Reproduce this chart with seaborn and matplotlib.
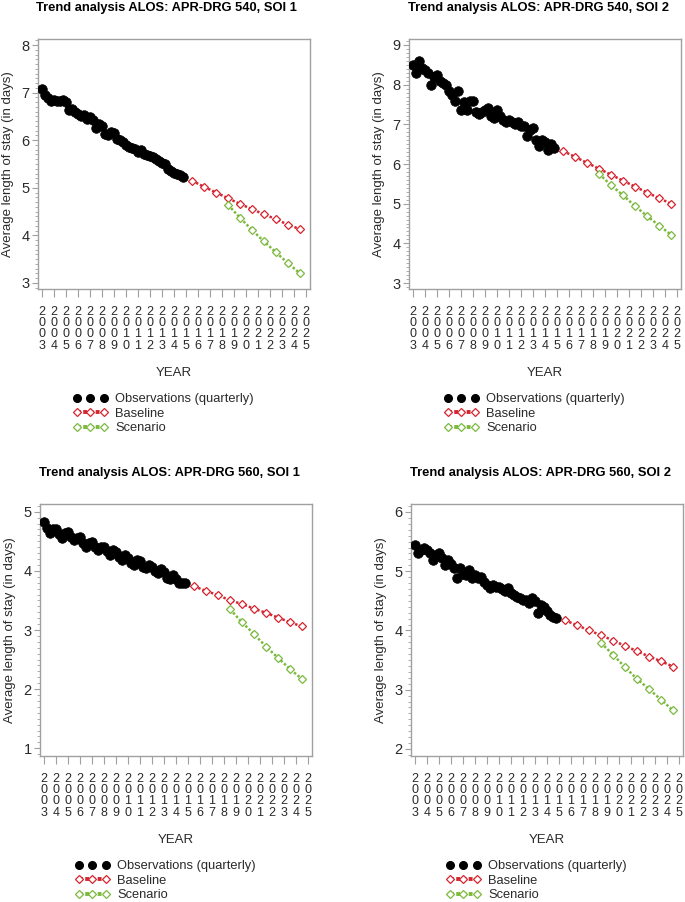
import matplotlib
matplotlib.use("Agg")
import matplotlib.pyplot as plt
from matplotlib.ticker import MultipleLocator
from matplotlib.lines import Line2D
import seaborn as sns

# x positions: quarterly observations 2003-2014, yearly projections from mid-2015
years = list(range(2003, 2026))
obs_x = [2003 + q / 4 for q in range(48)]
base_x = [2015.5 + i for i in range(10)]
scen_x = [2018.5 + i for i in range(7)]

# APR-DRG 540, SOI 1
obs_540_1 = [7.07, 6.95, 6.88, 6.82, 6.84, 6.83, 6.82, 6.84, 6.80, 6.64, 6.66, 6.60,
             6.55, 6.50, 6.53, 6.45, 6.48, 6.42, 6.25, 6.35, 6.30, 6.14, 6.12, 6.17,
             6.15, 6.03, 6.00, 5.97, 5.90, 5.86, 5.84, 5.82, 5.76, 5.80, 5.72, 5.68,
             5.66, 5.65, 5.60, 5.57, 5.52, 5.50, 5.40, 5.36, 5.32, 5.30, 5.26, 5.22]
base_540_1 = [5.15, 5.02, 4.90, 4.78, 4.66, 4.55, 4.44, 4.34, 4.22, 4.13]
scen_540_1 = [4.64, 4.37, 4.11, 3.87, 3.64, 3.41, 3.20]

# APR-DRG 540, SOI 2
obs_540_2 = [8.50, 8.30, 8.60, 8.42, 8.36, 8.30, 8.00, 8.20, 8.25, 8.10, 8.05, 8.00,
             7.85, 7.75, 7.60, 7.85, 7.35, 7.55, 7.35, 7.60, 7.60, 7.30, 7.25, 7.30,
             7.35, 7.40, 7.20, 7.15, 7.35, 7.20, 7.10, 7.05, 7.10, 7.05, 7.00, 7.05,
             6.95, 6.95, 6.70, 6.85, 6.90, 6.60, 6.45, 6.60, 6.55, 6.35, 6.50, 6.40]
base_540_2 = [6.33, 6.18, 6.03, 5.88, 5.73, 5.58, 5.43, 5.28, 5.14, 5.00]
scen_540_2 = [5.75, 5.47, 5.21, 4.94, 4.69, 4.45, 4.22]

# APR-DRG 560, SOI 1
obs_560_1 = [4.82, 4.72, 4.64, 4.71, 4.70, 4.62, 4.56, 4.64, 4.66, 4.58, 4.52, 4.55,
             4.58, 4.47, 4.41, 4.47, 4.48, 4.40, 4.35, 4.41, 4.40, 4.33, 4.27, 4.35,
             4.32, 4.23, 4.18, 4.27, 4.22, 4.13, 4.10, 4.18, 4.16, 4.06, 4.04, 4.10,
             4.06, 3.99, 3.96, 4.03, 3.98, 3.88, 3.86, 3.93, 3.86, 3.79, 3.80, 3.80]
base_560_1 = [3.74, 3.66, 3.59, 3.50, 3.44, 3.36, 3.29, 3.21, 3.13, 3.06]
scen_560_1 = [3.35, 3.13, 2.93, 2.72, 2.53, 2.34, 2.17]

# APR-DRG 560, SOI 2
obs_560_2 = [5.45, 5.31, 5.36, 5.39, 5.36, 5.30, 5.19, 5.27, 5.30, 5.22, 5.11, 5.19,
             5.13, 5.05, 4.89, 5.05, 4.96, 4.94, 5.02, 4.88, 4.94, 4.88, 4.91, 4.82,
             4.77, 4.71, 4.77, 4.74, 4.74, 4.70, 4.66, 4.71, 4.63, 4.60, 4.57, 4.54,
             4.52, 4.51, 4.46, 4.54, 4.49, 4.29, 4.43, 4.40, 4.32, 4.26, 4.23, 4.21]
base_560_2 = [4.17, 4.09, 4.00, 3.92, 3.83, 3.74, 3.65, 3.56, 3.48, 3.39]
scen_560_2 = [3.79, 3.59, 3.38, 3.18, 3.01, 2.83, 2.65]

titles = ["Trend analysis ALOS: APR-DRG 540, SOI 1",
          "Trend analysis ALOS: APR-DRG 540, SOI 2",
          "Trend analysis ALOS: APR-DRG 560, SOI 1",
          "Trend analysis ALOS: APR-DRG 560, SOI 2"]
legend_labels = ["Observations (quarterly)", "Baseline", "Scenario"]

RED = "#d42530"
GREEN = "#7cba3e"
GRAY = "#a0a0a0"
TXT = "#2a2a2a"

sns.set_theme(style="white")
plt.rcParams["font.family"] = ["Liberation Sans", "DejaVu Sans"]

W, H = 685, 902
fig = plt.figure(figsize=(W / 100, H / 100), dpi=100)

# (left, top, width, height) in pixels, title centre, y limits
panels = [
    (obs_540_1, base_540_1, scen_540_1, (38, 39, 272, 250), (166, 8), (2.87, 8.13)),
    (obs_540_2, base_540_2, scen_540_2, (409, 39, 272, 250), (538, 8), (2.85, 9.15)),
    (obs_560_1, base_560_1, scen_560_1, (40, 504, 272, 252), (169, 473), (0.87, 5.13)),
    (obs_560_2, base_560_2, scen_560_2, (411, 504, 272, 252), (541, 473), (1.88, 6.135)),
]

for i, (obs, base, scen, box, tpos, ylim) in enumerate(panels):
    l, t, w, h = box
    ax = fig.add_axes([l / W, 1 - (t + h) / H, w / W, h / H])

    sns.scatterplot(x=obs_x, y=obs, ax=ax, color="black", s=48,
                    edgecolor="black", linewidth=0.5, zorder=3)
    sns.lineplot(x=base_x, y=base, ax=ax, color=RED, lw=1.8, ls=(0, (1, 0.8)),
                 marker="D", markersize=3.6, markerfacecolor="white",
                 markeredgecolor=RED, markeredgewidth=0.9, zorder=4)
    sns.lineplot(x=scen_x, y=scen, ax=ax, color=GREEN, lw=1.8, ls=(0, (1, 0.8)),
                 marker="D", markersize=3.6, markerfacecolor="white",
                 markeredgecolor=GREEN, markeredgewidth=0.9, zorder=4)

    ax.set_xlim(2002.67, 2025.33)
    ax.set_ylim(*ylim)
    ax.set_xticks(years)
    ax.set_xticklabels(["\n".join(str(y)) for y in years], fontsize=9,
                       linespacing=0.93, color=TXT)
    ax.yaxis.set_major_locator(MultipleLocator(1))
    ax.yaxis.set_minor_locator(MultipleLocator(0.1))
    ax.tick_params(axis="y", which="major", left=True, length=4, width=0.8,
                   color=GRAY, labelsize=10.5, labelcolor=TXT, pad=2)
    ax.tick_params(axis="y", which="minor", left=True, length=2, width=0.6, color=GRAY)
    ax.tick_params(axis="x", which="major", bottom=True, length=6, width=0.8,
                   color=GRAY, pad=6)
    for sp in ax.spines.values():
        sp.set_color(GRAY)
        sp.set_linewidth(1.0)

    ax.set_xlabel("YEAR", fontsize=9.5, color=TXT)
    ax.xaxis.set_label_coords(0.5, -(84 / h))
    ax.xaxis.label.set_verticalalignment("center")
    ax.set_ylabel("Average length of stay (in days)", fontsize=9.5, color=TXT)
    ax.yaxis.set_label_coords(-30 / w, 0.5)
    ax.yaxis.label.set_verticalalignment("center")

    fig.text(tpos[0] / W, 1 - tpos[1] / H, titles[i], ha="center", va="center",
             fontsize=9.25, fontweight="bold", color="black")

    handles = [
        Line2D([], [], ls="none", marker="o", color="black", ms=5.5),
        Line2D([], [], color=RED, lw=2.8, ls=(0, (1, 0.6)), marker="D", ms=3.6,
               mfc="white", mec=RED, mew=0.9),
        Line2D([], [], color=GREEN, lw=2.8, ls=(0, (1, 0.6)), marker="D", ms=3.6,
               mfc="white", mec=GREEN, mew=0.9),
    ]
    ax.legend(handles, legend_labels, loc="upper left",
              bbox_to_anchor=(35 / w, -(104 / h)), frameon=False, fontsize=9.25,
              numpoints=3, handlelength=2.7, handletextpad=0.6,
              labelspacing=0.2, borderpad=0, borderaxespad=0,
              labelcolor=TXT)

fig.savefig("out.png", dpi=100, facecolor="white")
